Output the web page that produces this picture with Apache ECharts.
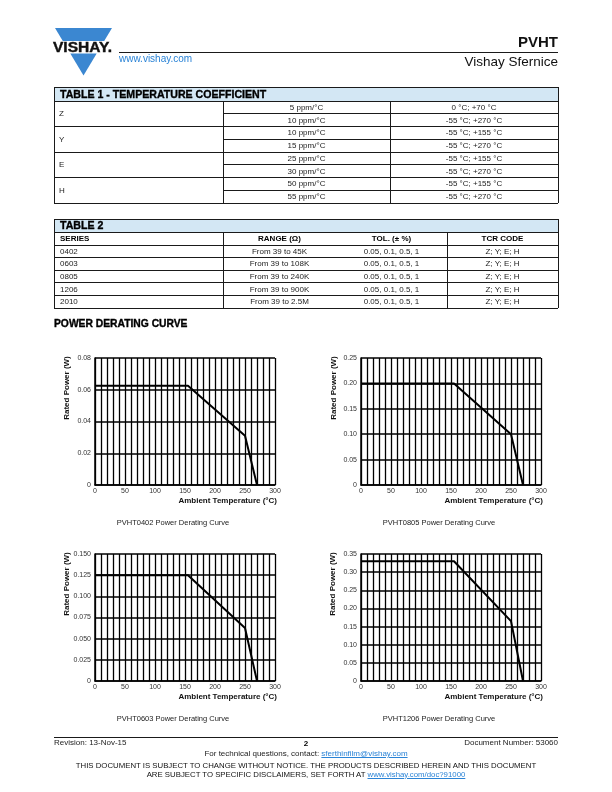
<!DOCTYPE html>
<html>
<head>
<meta charset="utf-8">
<title>PVHT - Vishay Sfernice</title>
<script src="https://cdn.jsdelivr.net/npm/echarts@6/dist/echarts.min.js"></script>
<style>
html,body{margin:0;padding:0;background:#fff;}
#page{position:relative;width:612px;height:792px;overflow:hidden;font-family:'Liberation Sans',Arial,Helvetica,sans-serif;color:#111;}
#chart{position:absolute;left:0;top:0;width:612px;height:792px;}
.t{position:absolute;white-space:nowrap;}
.r{position:absolute;}
a{color:#2a83d6;text-decoration:underline;}
</style>
</head>
<body>
<div id="page">
<div id="chart"></div>
<svg class="r" style="left:0;top:0" width="130" height="80">
  <polygon points="55,28 112,28 104.2,41 62.8,41" fill="#3b87d1"/>
  <polygon points="70.3,53.5 96.7,53.5 83.5,75.5" fill="#3b87d1"/>
  <text x="53" y="52.4" font-family="Liberation Sans, Arial, sans-serif" font-weight="bold" font-size="14" textLength="59" lengthAdjust="spacingAndGlyphs" fill="#111" stroke="#111" stroke-width="0.4">VISHAY.</text>
</svg>
</div>
<script>
// ---------- data ----------
const tempC = [0, 155, 250, 270];
const power0402 = [0.0625, 0.0625, 0.031, 0];
const power0805 = [0.2, 0.2, 0.1, 0];
const power0603 = [0.125, 0.125, 0.0625, 0];
const power1206 = [0.33, 0.33, 0.165, 0];
const chartTitles = ['PVHT0402 Power Derating Curve', 'PVHT0805 Power Derating Curve', 'PVHT0603 Power Derating Curve', 'PVHT1206 Power Derating Curve'];
const yMaxes = [0.08, 0.25, 0.15, 0.35];
const ySteps = [0.02, 0.05, 0.025, 0.05];
const yDecimals = [2, 2, 3, 2];
const xTickStep = 50;
const xMinorCount = 5;

const tcrCodes = ['Z', 'Y', 'E', 'H'];
const tcrValues = ['5 ppm/°C', '10 ppm/°C', '10 ppm/°C', '15 ppm/°C', '25 ppm/°C', '30 ppm/°C', '50 ppm/°C', '55 ppm/°C'];
const tcrRanges = ['0 °C; +70 °C', '-55 °C; +270 °C', '-55 °C; +155 °C', '-55 °C; +270 °C', '-55 °C; +155 °C', '-55 °C; +270 °C', '-55 °C; +155 °C', '-55 °C; +270 °C'];

const t2Headers = ['SERIES', 'RANGE (Ω)', 'TOL. (± %)', 'TCR CODE'];
const t2Series = ['0402', '0603', '0805', '1206', '2010'];
const t2Ranges = ['From 39 to 45K', 'From 39 to 108K', 'From 39 to 240K', 'From 39 to 900K', 'From 39 to 2.5M'];
const t2Tols = ['0.05, 0.1, 0.5, 1', '0.05, 0.1, 0.5, 1', '0.05, 0.1, 0.5, 1', '0.05, 0.1, 0.5, 1', '0.05, 0.1, 0.5, 1'];
const t2Codes = ['Z; Y; E; H', 'Z; Y; E; H', 'Z; Y; E; H', 'Z; Y; E; H', 'Z; Y; E; H'];

// ---------- HTML helpers ----------
const page = document.getElementById('page');
function txt(html, x, y, size, align, extra) {
  const d = document.createElement('div');
  d.className = 't';
  d.innerHTML = html;
  const lh = Math.round(size * 1.25);
  d.style.fontSize = size + 'px';
  d.style.lineHeight = lh + 'px';
  d.style.top = (y - lh / 2) + 'px';
  if (align === 'left') d.style.left = x + 'px';
  else if (align === 'right') { d.style.left = (x - 600) + 'px'; d.style.width = '600px'; d.style.textAlign = 'right'; }
  else { d.style.left = (x - 300) + 'px'; d.style.width = '600px'; d.style.textAlign = 'center'; }
  if (extra) Object.assign(d.style, extra);
  page.appendChild(d);
  return d;
}
function rect(x, y, w, h, color) {
  const d = document.createElement('div');
  d.className = 'r';
  d.style.left = x + 'px'; d.style.top = y + 'px';
  d.style.width = w + 'px'; d.style.height = h + 'px';
  d.style.background = color;
  page.appendChild(d);
  return d;
}
const LC = '#1a1a1a';
function hl(x1, x2, y, w) { rect(x1, y - (w || 1) / 2, x2 - x1, w || 1, LC); }
function vl(x, y1, y2, w) { rect(x - (w || 1) / 2, y1, w || 1, y2 - y1, LC); }
const HEAVY = { fontWeight: 'bold', color: '#000', webkitTextStroke: '0.35px #000' };

// ---------- page header ----------
hl(119, 558, 52.3, 1.2);
txt('www.vishay.com', 119, 58, 10, 'left', { color: '#2a83d6' });
txt('PVHT', 558, 41, 15, 'right', { fontWeight: 'bold' });
txt('Vishay Sfernice', 558, 61.5, 13.5, 'right');

// ---------- Table 1 ----------
(function () {
  const L = 54, R = 558, c1 = 223, c2 = 390;
  const top = 87, hb = 101, rh = 12.75;
  const bottom = hb + rh * tcrValues.length;
  rect(L, top, R - L, hb - top, '#d3e7f4');
  txt('TABLE 1 - TEMPERATURE COEFFICIENT', 60, 94, 10.6, 'left', HEAVY);
  hl(L, R, top); hl(L, R, hb); hl(L, R, bottom);
  vl(L, top, bottom); vl(R, top, bottom);
  vl(c1, hb, bottom); vl(c2, hb, bottom);
  tcrValues.forEach((v, i) => {
    const y0 = hb + rh * i;
    if (i > 0) hl(i % 2 === 0 ? L : c1, R, y0);
    txt(v, (c1 + c2) / 2, y0 + rh / 2 + 0.5, 8, 'center', { color: '#222' });
    txt(tcrRanges[i], (c2 + R) / 2, y0 + rh / 2 + 0.5, 8, 'center', { color: '#222' });
  });
  tcrCodes.forEach((c, i) => {
    txt(c, 59, hb + rh * (2 * i + 1) + 0.5, 8, 'left', { color: '#222' });
  });
})();

// ---------- Table 2 ----------
(function () {
  const L = 54, R = 558, c1 = 223, cm = 336, c2 = 447;
  const top = 219, hb = 232, hr = 245, rh = 12.6;
  const bottom = hr + rh * t2Series.length;
  rect(L, top, R - L, hb - top, '#d3e7f4');
  txt('TABLE 2', 60, 225.7, 10.6, 'left', HEAVY);
  hl(L, R, top); hl(L, R, hb); hl(L, R, hr); hl(L, R, bottom);
  vl(L, top, bottom); vl(R, top, bottom);
  vl(c1, hb, bottom); vl(c2, hb, bottom);
  const hy = (hb + hr) / 2 + 0.5;
  txt(t2Headers[0], 60, hy, 8, 'left', { fontWeight: 'bold', color: '#000' });
  txt(t2Headers[1], (c1 + cm) / 2, hy, 8, 'center', { fontWeight: 'bold', color: '#000' });
  txt(t2Headers[2], (cm + c2) / 2, hy, 8, 'center', { fontWeight: 'bold', color: '#000' });
  txt(t2Headers[3], (c2 + R) / 2, hy, 8, 'center', { fontWeight: 'bold', color: '#000' });
  t2Series.forEach((s, i) => {
    const y0 = hr + rh * i;
    if (i > 0) hl(L, R, y0);
    const yc = y0 + rh / 2 + 0.5;
    txt(s, 60, yc, 8, 'left', { color: '#222' });
    txt(t2Ranges[i], (c1 + cm) / 2, yc, 8, 'center', { color: '#222' });
    txt(t2Tols[i], (cm + c2) / 2, yc, 8, 'center', { color: '#222' });
    txt(t2Codes[i], (c2 + R) / 2, yc, 8, 'center', { color: '#222' });
  });
})();

txt('POWER DERATING CURVE', 54, 323, 10.3, 'left', HEAVY);

// ---------- footer ----------
hl(54, 558, 737.5, 1.4);
txt('Revision: 13-Nov-15', 54, 743, 8, 'left', { color: '#222' });
txt('2', 306, 743.5, 8, 'center', { fontWeight: 'bold', color: '#000' });
txt('Document Number: 53060', 558, 743, 8, 'right', { color: '#222' });
txt('For technical questions, contact: <a>sferthinfilm@vishay.com</a>', 306, 754, 8, 'center', { color: '#222' });
txt('THIS DOCUMENT IS SUBJECT TO CHANGE WITHOUT NOTICE. THE PRODUCTS DESCRIBED HEREIN AND THIS DOCUMENT', 306, 765.5, 7.8, 'center', { color: '#111' });
txt('ARE SUBJECT TO SPECIFIC DISCLAIMERS, SET FORTH AT <a>www.vishay.com/doc?91000</a>', 306, 774.5, 7.8, 'center', { color: '#111' });

// ---------- charts ----------
const FAM = "'Liberation Sans', Arial, sans-serif";
const grids = [
  { left: 95, top: 358, width: 180, height: 127 },
  { left: 361, top: 358, width: 180, height: 127 },
  { left: 95, top: 554, width: 180, height: 127 },
  { left: 361, top: 554, width: 180, height: 127 }
];
const powers = [power0402, power0805, power0603, power1206];
const yTitleX = [67, 334, 67, 333];

const option = {
  animation: false,
  grid: grids.map(g => Object.assign({ containLabel: false }, g)),
  xAxis: grids.map((g, i) => ({
    gridIndex: i, type: 'value', min: 0, max: 300, interval: xTickStep,
    axisLine: { show: true, onZero: false, lineStyle: { color: '#000', width: 1.5 } },
    axisTick: { show: false },
    minorTick: { show: false, splitNumber: xMinorCount },
    axisLabel: { fontSize: 7, color: '#333', margin: 3, fontFamily: FAM },
    splitLine: { show: true, lineStyle: { color: '#000', width: 1.3 } },
    minorSplitLine: { show: true, lineStyle: { color: '#000', width: 1.3 } }
  })),
  yAxis: grids.map((g, i) => ({
    gridIndex: i, type: 'value', min: 0, max: yMaxes[i], interval: ySteps[i],
    axisLine: { show: true, onZero: false, lineStyle: { color: '#000', width: 1.5 } },
    axisTick: { show: false },
    axisLabel: {
      fontSize: 7, color: '#333', margin: 4, fontFamily: FAM,
      formatter: v => (Math.abs(v) < 1e-9 ? '0' : v.toFixed(yDecimals[i]))
    },
    splitLine: { show: true, lineStyle: { color: '#000', width: 1.5 } }
  })),
  series: powers.map((p, i) => ({
    type: 'line', xAxisIndex: i, yAxisIndex: i,
    data: tempC.map((t, j) => [t, p[j]]),
    symbol: 'none', silent: true,
    lineStyle: { color: '#000', width: 2 }
  })),
  graphic: []
};
grids.forEach((g, i) => {
  option.graphic.push({
    type: 'text', x: yTitleX[i], y: g.top + 30, rotation: Math.PI / 2, silent: true,
    style: { text: 'Rated Power (W)', font: 'bold 8px ' + FAM, fill: '#111', textAlign: 'center', textVerticalAlign: 'middle' }
  });
  option.graphic.push({
    type: 'text', x: g.left + g.width + 2, y: g.top + g.height + 16, silent: true,
    style: { text: 'Ambient Temperature (°C)', font: 'bold 8px ' + FAM, fill: '#111', textAlign: 'right', textVerticalAlign: 'middle' }
  });
  option.graphic.push({
    type: 'text', x: g.left + 78, y: g.top + g.height + 38, silent: true,
    style: { text: chartTitles[i], font: '7.5px ' + FAM, fill: '#222', textAlign: 'center', textVerticalAlign: 'middle' }
  });
});

const chart = echarts.init(document.getElementById('chart'), null, { renderer: 'canvas' });
chart.setOption(option);
</script>
</body>
</html>
